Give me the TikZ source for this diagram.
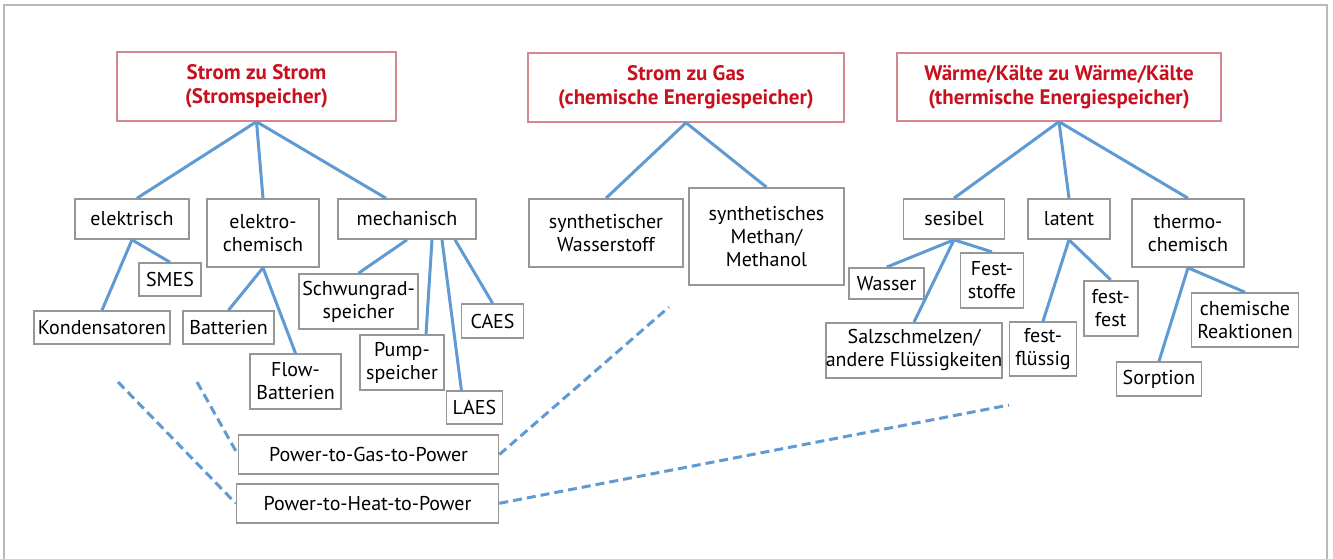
\documentclass[tikz,border=0pt]{standalone}
\usepackage{fontspec}
\setmainfont{PT Sans}
\usepackage{tikz}
\definecolor{titlered}{RGB}{200,16,30}
\definecolor{titleborder}{RGB}{212,135,145}
\definecolor{boxgray}{RGB}{150,150,150}
\definecolor{linkblue}{RGB}{95,155,210}
\definecolor{framegray}{RGB}{185,185,185}
\tikzset{
  titlebox/.style={rectangle, draw=titleborder, line width=1.4pt, inner sep=0pt,
                   align=center, text=titlered, font=\bfseries\fontsize{21}{23.5}\selectfont},
  catbox/.style={rectangle, draw=boxgray, line width=1.6pt, inner sep=0pt,
                 align=center, font=\fontsize{20}{23}\selectfont},
  link/.style={draw=linkblue, line width=3pt},
  dlink/.style={link, dash pattern=on 9pt off 5pt},
}

\begin{document}
\begin{tikzpicture}[x=1pt,y=-1pt]
  \useasboundingbox (0,0) rectangle (1333,558);
  % outer frame (open at the bottom)
  \draw[framegray, line width=1.5pt] (4,565) -- (4,5) -- (1327,5) -- (1327,565);
  % Top level
  \node[titlebox, minimum width=279pt, minimum height=69pt] (tStrom) at (256.5,86.5)
        {Strom zu Strom\\(Stromspeicher)};
  \node[titlebox, minimum width=316pt, minimum height=69pt] (tGas) at (686,87.5)
        {Strom zu Gas\\(chemische Energiespeicher)};
  \node[titlebox, minimum width=324pt, minimum height=68pt] (tWaerme) at (1059,87)
        {Wärme/Kälte zu Wärme/Kälte\\(thermische Energiespeicher)};
  % Strom zu Strom
  \node[catbox, minimum width=114pt, minimum height=40pt] (elektrisch) at (132,219) {elektrisch};
  \node[catbox, minimum width=112pt, minimum height=68pt] (elchem) at (263,233) {elektro-\\chemisch};
  \node[catbox, minimum width=138pt, minimum height=40pt] (mech) at (407,219) {mechanisch};
  \node[catbox, minimum width=62pt, minimum height=33pt] (smes) at (170,279.5) {SMES};
  \node[catbox, minimum width=136pt, minimum height=33pt] (kond) at (102,327.5) {Kondensatoren};
  \node[catbox, minimum width=91pt, minimum height=33pt] (batt) at (228.5,327.5) {Batterien};
  \node[catbox, minimum width=91pt, minimum height=55pt] (flow) at (295.5,381.5) {Flow-\\Batterien};
  \node[catbox, minimum width=119pt, minimum height=55pt] (schwung) at (358.5,301.5) {Schwungrad-\\speicher};
  \node[catbox, minimum width=84pt, minimum height=55pt] (pump) at (402,362.5) {Pump-\\speicher};
  \node[catbox, minimum width=62pt, minimum height=34pt] (caes) at (492.6,321) {CAES};
  \node[catbox, minimum width=56pt, minimum height=33pt] (laes) at (474.4,407.5) {LAES};
  % Strom zu Gas
  \node[catbox, minimum width=154pt, minimum height=68pt] (wstoff) at (606,233) {synthetischer\\Wasserstoff};
  \node[catbox, minimum width=155pt, minimum height=97pt] (methan) at (766.5,236.5) {synthetisches\\Methan/\\Methanol};
  % Waerme/Kaelte
  \node[catbox, minimum width=101pt, minimum height=40pt] (sesibel) at (954,219) {sesibel};
  \node[catbox, minimum width=82pt, minimum height=40pt] (latent) at (1069,219) {latent};
  \node[catbox, minimum width=112pt, minimum height=68pt] (thchem) at (1188,233) {thermo-\\chemisch};
  \node[catbox, minimum width=75pt, minimum height=31pt] (wasser) at (886.7,283.4) {Wasser};
  \node[catbox, minimum width=63pt, minimum height=55pt] (fstoffe) at (992,280.2) {Fest-\\stoffe};
  \node[catbox, minimum width=176pt, minimum height=55pt] (salz) at (914,350.4) {Salzschmelzen/\\andere Flüssigkeiten};
  \node[catbox, minimum width=67pt, minimum height=54pt] (festfl) at (1043,349) {fest-\\flüssig};
  \node[catbox, minimum width=54pt, minimum height=55pt] (festfest) at (1110.7,308.2) {fest-\\fest};
  \node[catbox, minimum width=107pt, minimum height=54pt] (chemreak) at (1245,320) {chemische\\Reaktionen};
  \node[catbox, minimum width=85pt, minimum height=34pt] (sorption) at (1159,379) {Sorption};
  % Power-to-X-to-Power
  \node[catbox, minimum width=260pt, minimum height=39pt] (ptg) at (368.6,454.5) {Power-to-Gas-to-Power};
  \node[catbox, minimum width=262pt, minimum height=39pt] (pth) at (367.5,503.3) {Power-to-Heat-to-Power};
  % Tree links
  \draw[link] (tStrom.south) -- ([xshift=5pt]elektrisch.north);
  \draw[link] (tStrom.south) -- (elchem.north);
  \draw[link] (tStrom.south) -- ([xshift=-21pt]mech.north);
  \draw[link] (elektrisch.south) -- (smes.north);
  \draw[link] (elektrisch.south) -- (kond.north);
  \draw[link] (elchem.south) -- (batt.north);
  \draw[link] (elchem.south) -- (flow.north);
  \draw[link] (mech.south) -- (schwung.north);
  \draw[link] ([xshift=25pt]mech.south) -- ([xshift=24pt]pump.north);
  \draw[link] ([xshift=35pt]mech.south) -- ([xshift=-13pt]laes.north);
  \draw[link] ([xshift=48pt]mech.south) -- (caes.north);
  \draw[link] (tGas.south) -- (wstoff.north);
  \draw[link] (tGas.south) -- (methan.north);
  \draw[link] (tWaerme.south) -- (sesibel.north);
  \draw[link] (tWaerme.south) -- (latent.north);
  \draw[link] (tWaerme.south) -- (thchem.north);
  \draw[link] (sesibel.south) -- (wasser.north);
  \draw[link] (sesibel.south) -- (salz.north);
  \draw[link] (sesibel.south) -- (fstoffe.north);
  \draw[link] (latent.south) -- (festfl.north);
  \draw[link] (latent.south) -- (festfest.north);
  \draw[link] (thchem.south) -- (sorption.north);
  \draw[link] (thchem.south) -- (chemreak.north);
  % Dashed links
  \coordinate (dEl) at (118,382);
  \coordinate (dChem) at (197,382);
  \coordinate (dGas) at (669,307);
  \coordinate (dTherm) at (1009,405);
  \draw[dlink] (dEl) -- (pth.west);
  \draw[dlink] (dChem) -- (ptg.west);
  \draw[dlink] (ptg.east) -- (dGas);
  \draw[dlink] (pth.east) -- (dTherm);
\end{tikzpicture}
\end{document}
